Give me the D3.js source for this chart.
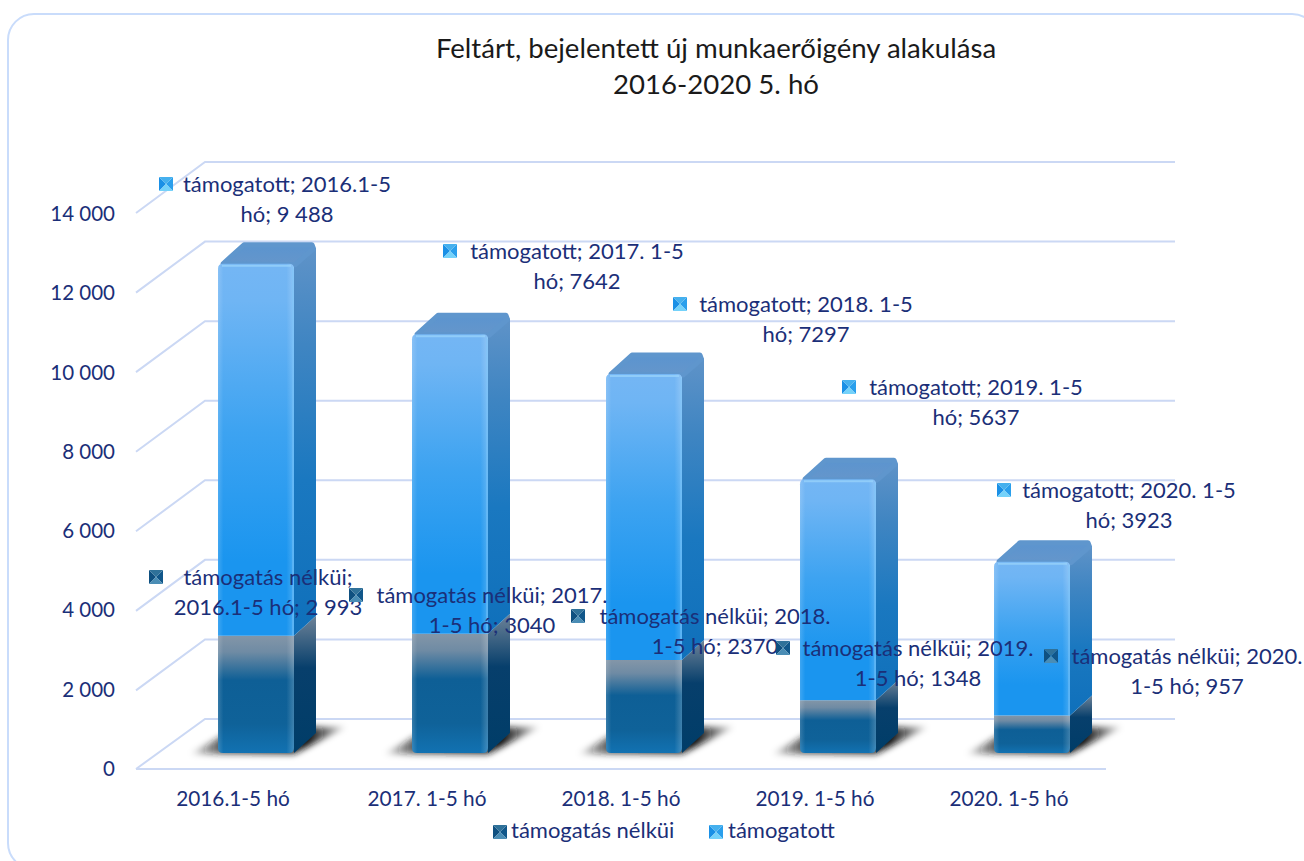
<!DOCTYPE html>
<html lang="hu">
<head>
<meta charset="utf-8">
<script src="https://cdn.jsdelivr.net/npm/d3@7"></script>
<style>
html,body{margin:0;padding:0;background:#fff;overflow:hidden}
text{font-family:Lato,"Open Sans",sans-serif;fill:#1b2f78}
</style>
</head>
<body>
<svg id="c" width="1304" height="861"></svg>
<script>
const categories = ["2016.1-5 hó","2017. 1-5 hó","2018. 1-5 hó","2019. 1-5 hó","2020. 1-5 hó"];
const seriesNames = ["támogatás nélküi","támogatott"];
const unsupported = [2993,3040,2370,1348,957];
const supported = [9488,7642,7297,5637,3923];
const yTicks = [0,2000,4000,6000,8000,10000,12000,14000];
const titleLines = ["Feltárt, bejelentett új munkaerőigény alakulása","2016-2020 5. hó"];
const supportedLabels = [["támogatott; 2016.1-5","hó; 9 488"],["támogatott; 2017. 1-5","hó; 7642"],["támogatott; 2018. 1-5","hó; 7297"],["támogatott; 2019. 1-5","hó; 5637"],["támogatott; 2020. 1-5","hó; 3923"]];
const unsupportedLabels = [["támogatás nélküi;","2016.1-5 hó; 2 993"],["támogatás nélküi; 2017.","1-5 hó; 3040"],["támogatás nélküi; 2018.","1-5 hó; 2370"],["támogatás nélküi; 2019.","1-5 hó; 1348"],["támogatás nélküi; 2020.","1-5 hó; 957"]];

// label placement (hand placed in the source chart): centre x, first-line y
const supportedPlace = [[287,186],[577,253],[806,306],[976,389],[1129,492]];
const supportedIcon = [166,450,680,849,1004];
const unsupportedPlace = [[268,579],[492,597],[715,618],[918,650],[1187,658]];
const unsupportedIcon = [156,356,578,783,1051];

const svg = d3.select("#c");
const defs = svg.append("defs");
const FS = 22, LH = 30;
const depthX = 69, depthY = 50;      // wall-to-front offset of the floor
const barDX = 22, barDY = 20;        // bar depth

function grad(id, stops, horizontal){
  const g = defs.append("linearGradient").attr("id",id).attr("x1",0).attr("y1",0)
    .attr("x2",horizontal?1:0).attr("y2",horizontal?0:1);
  stops.forEach(s=>g.append("stop").attr("offset",s[0]).attr("stop-color",s[1]).attr("stop-opacity",s[2]===undefined?1:s[2]));
}
grad("blueFront",[[0,"#74b6f4"],[.1,"#6fb5f4"],[.45,"#3da3f1"],[.8,"#1a95ef"],[1,"#1a95ef"]]);
grad("blueSide",[[0,"#5f93c8"],[.25,"#3f85c2"],[.6,"#1a78c0"],[1,"#0f70bb"]]);
grad("darkFront",[[0,"#8396a8"],[.14,"#6f8ba4"],[.38,"#0e5f96"],[.75,"#0f6299"],[1,"#1272b2"]]);
grad("darkSide",[[0,"#6e8398"],[.38,"#073f6c"],[1,"#003d68"]]);
grad("topFace",[[0,"#5b94cf"],[1,"#6596cb"]]);
grad("edge",[[0,"#ffffff",.16],[.07,"#ffffff",0],[.9,"#ffffff",0],[1,"#ffffff",.2]],true);
const blur = defs.append("filter").attr("id","soft").attr("x","-30%").attr("y","-60%").attr("width","160%").attr("height","220%");
blur.append("feGaussianBlur").attr("stdDeviation",3);
grad("shadow",[[0,"#000",.05],[.2,"#222",.75],[.75,"#111",1],[1,"#000",.1]],true);

// card
svg.append("rect").attr("x",8).attr("y",14).attr("width",1310).attr("height",855).attr("rx",26)
  .attr("fill","#fff").attr("stroke","#c9dcfb").attr("stroke-width",2);

// title
svg.append("g").selectAll("text").data(titleLines).join("text")
  .attr("x",716).attr("y",(d,i)=>51+i*36).attr("text-anchor","middle").attr("dominant-baseline","middle")
  .attr("font-size",27.6).style("fill","#1a1a1a").text(d=>d);

// scales
const x = d3.scaleBand().domain(categories).range([136,1106]);
const yWall = d3.scaleLinear().domain([0,14000]).range([719,162]);
const yAxisScale = d3.scaleLinear().domain([0,14000]).range([769,214]);
const yBar = d3.scaleLinear().domain([0,14000]).range([753,753-548.8]);
const barW = 76;
const barX = c => x(c) + (x.bandwidth()-barW)/2 + 23;

// grid
const grid = svg.append("g").attr("fill","none").attr("stroke","#cbd8f4").attr("stroke-width",2);
grid.selectAll("path").data(yTicks).join("path")
  .attr("d",v=>{
    const p=d3.path(); const w=yWall(v);
    p.moveTo(x.range()[0], w+depthY+(v===0?0:1));
    p.lineTo(x.range()[0]+depthX, w);
    p.lineTo(x.range()[1]+depthX, w);
    return p.toString();
  });
grid.append("line").attr("x1",x.range()[0]).attr("x2",x.range()[1])
  .attr("y1",yWall(0)+depthY).attr("y2",yWall(0)+depthY);

// axes
const yAxis = d3.axisLeft(yAxisScale).tickValues(yTicks).tickSize(0).tickPadding(0)
  .tickFormat(d=>d3.format(",")(d).replace(","," "));
const gy = svg.append("g").attr("transform","translate(115,0)").call(yAxis);
gy.select(".domain").remove();
gy.selectAll("text").attr("font-size",20.5).attr("font-family",null).attr("fill",null);
gy.attr("font-family",null);
const xAxis = d3.axisBottom(x).tickSize(0).tickPadding(0);
const gx = svg.append("g").attr("transform","translate(0,791)").call(xAxis);
gx.select(".domain").remove();
gx.selectAll("text").attr("font-size",20.8).attr("font-family",null).attr("fill",null);
gx.attr("font-family",null);

// stacked bars
const rows = categories.map((c,i)=>({cat:c,[seriesNames[0]]:unsupported[i],[seriesNames[1]]:supported[i]}));
const stacked = d3.stack().keys(seriesNames)(rows);

// floor shadows
svg.append("g").selectAll("path").data(categories).join("path")
  .attr("d",c=>{
    const p=d3.path(), l=barX(c), b=yBar(0);
    p.moveTo(l-28,b+1); p.lineTo(l+barW+barDX-22,b+1); p.lineTo(l+barW+barDX+30,b-26); p.lineTo(l+20,b-26); p.closePath();
    return p.toString();
  }).attr("fill","url(#shadow)").attr("filter","url(#soft)");

function roundRect(l,t,w,h,rt,rb){
  const p=d3.path();
  p.moveTo(l+rt,t); p.lineTo(l+w-rt,t); p.quadraticCurveTo(l+w,t,l+w,t+rt);
  p.lineTo(l+w,t+h-rb); p.quadraticCurveTo(l+w,t+h,l+w-rb,t+h);
  p.lineTo(l+rb,t+h); p.quadraticCurveTo(l,t+h,l,t+h-rb);
  p.lineTo(l,t+rt); p.quadraticCurveTo(l,t,l+rt,t); p.closePath();
  return p.toString();
}
const bars = svg.append("g");
stacked.forEach((layer,si)=>{
  const isTop = si===1;
  const g = bars.append("g");
  layer.forEach((d,i)=>{
    const c = categories[i], l = barX(c), t = yBar(d[1]), b = yBar(d[0]), r = l+barW;
    const s=d3.path();
    const sideTop = isTop ? t-barDY+4 : t-barDY;
    s.moveTo(r,b); s.lineTo(r+barDX,b-barDY); s.lineTo(r+barDX,sideTop); s.lineTo(r,t); s.closePath();
    g.append("path").attr("d",s.toString()).attr("fill",isTop?"url(#blueSide)":"url(#darkSide)");
    if(isTop){
      const p=d3.path();
      p.moveTo(l+5,t); p.lineTo(l+barDX+4,t-barDY+1); p.lineTo(r+barDX-4,t-barDY+1); p.lineTo(r+barDX-2.5,t-barDY+5); p.lineTo(r+1,t+1); p.closePath();
      g.append("path").attr("d",p.toString()).attr("fill","url(#topFace)").attr("stroke","#5f96cd").attr("stroke-width",5).attr("stroke-linejoin","round");
    }
    const f = roundRect(l,t,barW,b-t,isTop?5:0,isTop?0:5);
    g.append("path").attr("d",f).attr("fill",isTop?"url(#blueFront)":"url(#darkFront)");
    g.append("path").attr("d",f).attr("fill","url(#edge)");
    if(isTop){
      g.append("line").attr("x1",l+4).attr("x2",r-3).attr("y1",t+2).attr("y2",t+2)
        .attr("stroke","#9ad4fb").attr("stroke-width",2).attr("opacity",.75);
      g.append("line").attr("x1",r-1).attr("x2",r-1).attr("y1",t+3).attr("y2",b)
        .attr("stroke","#7cc6fa").attr("stroke-width",2).attr("opacity",.4);
    }
  });
});

// legend-key glyph
const keyColors = {
  [seriesNames[0]]:{l:"#0f5080",r:"#11578a",t:"#2f7199",b:"#4a8db5"},
  [seriesNames[1]]:{l:"#1a90e6",r:"#2a9fec",t:"#45b0ee",b:"#74d2fa"}
};
function key(sel,name,cx,cy){
  const k=keyColors[name], s=7, g=sel.append("g").attr("transform",`translate(${cx},${cy})`);
  [["l",[[-s,-s],[0,0],[-s,s]]],["r",[[s,-s],[0,0],[s,s]]],["t",[[-s,-s],[0,0],[s,-s]]],["b",[[-s,s],[0,0],[s,s]]]]
    .forEach(([n,pts])=>g.append("polygon").attr("points",pts.join(" ")).attr("fill",k[n]));
}

// data labels
function labels(lines,place,icon,name){
  const g = svg.append("g");
  lines.forEach((ls,i)=>{
    key(g,name,icon[i],place[i][1]-2);
    ls.forEach((t,j)=>g.append("text").attr("x",place[i][0]).attr("y",place[i][1]+j*LH)
      .attr("text-anchor","middle").attr("dominant-baseline","middle").attr("font-size",FS).text(t));
  });
}
labels(supportedLabels,supportedPlace,supportedIcon,seriesNames[1]);
labels(unsupportedLabels,unsupportedPlace,unsupportedIcon,seriesNames[0]);

// legend
const lg = svg.append("g");
key(lg,seriesNames[0],500,832);
lg.append("text").attr("x",511).attr("y",832).attr("dominant-baseline","middle").attr("font-size",FS).text(seriesNames[0]);
key(lg,seriesNames[1],716,832);
lg.append("text").attr("x",728).attr("y",832).attr("dominant-baseline","middle").attr("font-size",FS).text(seriesNames[1]);
</script>
</body>
</html>
